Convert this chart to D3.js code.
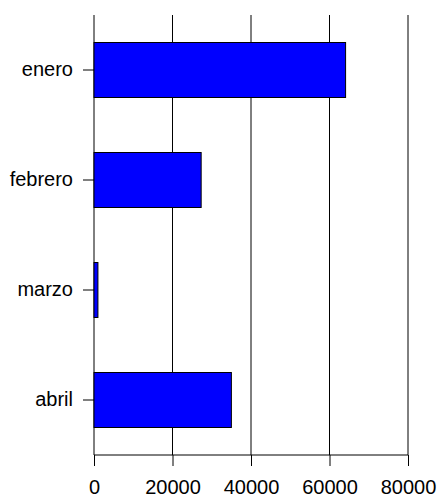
<!DOCTYPE html>
<html>
<head>
<meta charset="utf-8">
<script src="https://cdn.jsdelivr.net/npm/d3@7"></script>
<style>
  html, body { margin: 0; padding: 0; background: #fff; }
  svg { display: block; }
</style>
</head>
<body>
<svg id="chart" width="438" height="496"></svg>
<script>
const categories = ["enero", "febrero", "marzo", "abril"];
const values = [64100, 27300, 1000, 35000];
const xTicks = [0, 20000, 40000, 60000, 80000];

const svg = d3.select("#chart");
const font = "'Liberation Sans', Arial, Helvetica, sans-serif";

const x = d3.scaleLinear().domain([0, 80000]).range([94, 408]);
const y = d3.scaleBand().domain(categories).range([15, 455]).paddingInner(0.5).paddingOuter(0.25);

// vertical grid lines
svg.append("g").selectAll("line").data(xTicks).join("line")
  .attr("x1", d => x(d)).attr("x2", d => x(d))
  .attr("y1", 15).attr("y2", 455)
  .attr("stroke", "#000").attr("stroke-width", 1);

// bars
svg.append("g").selectAll("rect").data(categories).join("rect")
  .attr("x", x(0))
  .attr("y", d => y(d))
  .attr("width", (d, i) => x(values[i]) - x(0))
  .attr("height", y.bandwidth())
  .attr("fill", "#0000ff")
  .attr("stroke", "#000")
  .attr("stroke-width", 1);

// x axis
const xAxis = svg.append("g").attr("transform", "translate(0,455)")
  .call(d3.axisBottom(x).tickValues(xTicks).tickSize(11).tickPadding(14).tickFormat(d3.format("d")));
xAxis.select(".domain").attr("d", `M${x(0)},0H${x(80000)}`).attr("stroke", "#000");
xAxis.selectAll("line").attr("stroke", "#000");
xAxis.selectAll("text").attr("font-family", font).attr("font-size", 20).attr("fill", "#000");

// y axis
const yAxis = svg.append("g").attr("transform", `translate(${x(0)},0)`)
  .call(d3.axisLeft(y).tickSize(11).tickPadding(10));
yAxis.select(".domain").remove();
yAxis.selectAll("line").attr("stroke", "#000");
yAxis.selectAll("text").attr("font-family", font).attr("font-size", 20).attr("fill", "#000");
</script>
</body>
</html>
